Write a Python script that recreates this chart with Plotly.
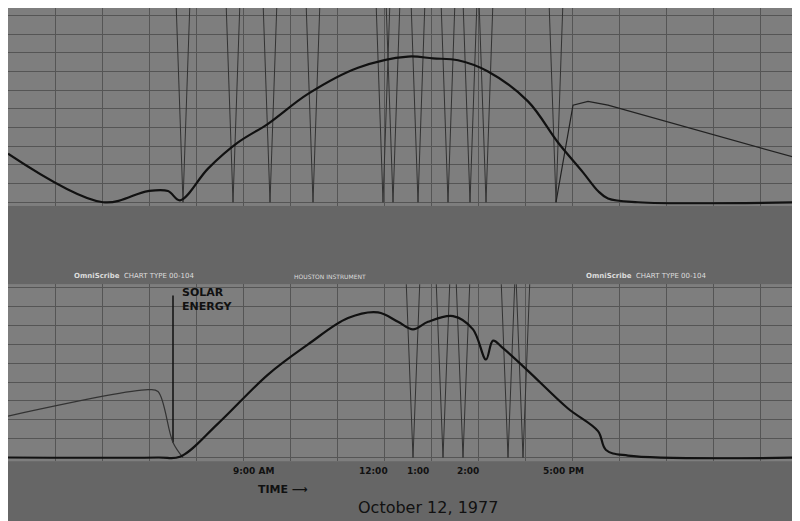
import plotly.graph_objects as go
from plotly.subplots import make_subplots

# top strip (chart units ~ pen position 0-800, values on 0-5 scale)
top_x = [0, 95, 140, 160, 172, 200, 230, 260, 300, 350, 400, 425, 450, 480, 520, 550, 575, 590, 600, 630, 800]
top_y = [1.3, 0.0, 0.3, 0.3, 0.05, 0.9, 1.6, 2.1, 2.9, 3.6, 3.9, 3.85, 3.8, 3.5, 2.7, 1.6, 0.8, 0.3, 0.1, 0.0, 0.0]
top_decay_x = [548, 565, 580, 600, 800]
top_decay_y = [0.0, 2.6, 2.7, 2.6, 1.1]
top_spikes = [175, 225, 262, 305, 375, 385, 410, 440, 462, 478, 548]

bot_x = [0, 150, 172, 210, 260, 300, 340, 370, 390, 405, 420, 445, 465, 478, 485, 495, 520, 560, 590, 598, 620, 800]
bot_y = [0.0, 0.0, 0.02, 0.9, 2.2, 3.0, 3.7, 3.85, 3.6, 3.4, 3.6, 3.75, 3.4, 2.6, 3.1, 2.9, 2.3, 1.3, 0.7, 0.2, 0.05, 0.0]
bot_early_x = [0, 140, 150, 165, 175]
bot_early_y = [1.1, 1.8, 1.75, 0.4, 0.0]
bot_spikes = [405, 435, 455, 500, 515]

time_labels = ["9:00 AM", "12:00", "1:00", "2:00", "5:00 PM"]
time_pos = [245, 365, 410, 460, 555]

fig = make_subplots(rows=2, cols=1, vertical_spacing=0.2)

def spikes(xs, top):
    sx, sy = [], []
    for x in xs:
        sx += [x - 7, x, x + 7, None]
        sy += [top, 0, top, None]
    return sx, sy

sx, sy = spikes(top_spikes, 5.4)
fig.add_trace(go.Scatter(x=sx, y=sy, mode="lines", line=dict(color="#333", width=1)), 1, 1)
fig.add_trace(go.Scatter(x=top_decay_x, y=top_decay_y, mode="lines", line=dict(color="#222", width=1.2)), 1, 1)
fig.add_trace(go.Scatter(x=top_x, y=top_y, mode="lines", line=dict(color="#111", width=2.2, shape="spline")), 1, 1)

sx, sy = spikes(bot_spikes, 4.8)
fig.add_trace(go.Scatter(x=sx, y=sy, mode="lines", line=dict(color="#333", width=1)), 2, 1)
fig.add_trace(go.Scatter(x=[165, 165], y=[0.4, 4.3], mode="lines", line=dict(color="#111", width=1.5)), 2, 1)
fig.add_trace(go.Scatter(x=bot_early_x, y=bot_early_y, mode="lines", line=dict(color="#333", width=1.2, shape="spline")), 2, 1)
fig.add_trace(go.Scatter(x=bot_x, y=bot_y, mode="lines", line=dict(color="#111", width=2.2, shape="spline")), 2, 1)

axis_x = dict(range=[0, 800], dtick=47, tick0=0, showgrid=True, gridcolor="#555",
              showticklabels=False, zeroline=False, ticks="")
fig.update_xaxes(**axis_x)
fig.update_yaxes(showgrid=True, gridcolor="#555", zeroline=False, showticklabels=False, dtick=0.5)
fig.update_yaxes(range=[-0.1, 5.2], row=1, col=1)
fig.update_yaxes(range=[-0.1, 4.6], row=2, col=1)

fig.update_layout(
    width=800, height=521, showlegend=False,
    margin=dict(l=0, r=0, t=0, b=0),
    paper_bgcolor="#666666", plot_bgcolor="#7e7e7e",
    xaxis=dict(domain=[0, 1]), yaxis=dict(domain=[0.62, 1.0]),
    xaxis2=dict(domain=[0, 1]), yaxis2=dict(domain=[0.13, 0.47]),
    font=dict(family="DejaVu Sans", color="#111"),
)

fig.add_annotation(x=0.08, y=0.485, xref="paper", yref="paper", text="<b>OmniScribe</b>  CHART TYPE 00-104",
                   showarrow=False, font=dict(size=7, color="#ddd"), xanchor="left")
fig.add_annotation(x=0.45, y=0.485, xref="paper", yref="paper", text="HOUSTON INSTRUMENT",
                   showarrow=False, font=dict(size=6, color="#ddd"), xanchor="right")
fig.add_annotation(x=0.72, y=0.485, xref="paper", yref="paper", text="<b>OmniScribe</b>  CHART TYPE 00-104",
                   showarrow=False, font=dict(size=7, color="#ddd"), xanchor="left")
fig.add_annotation(x=172, y=4.2, xref="x2", yref="y2", text="<b>SOLAR<br>ENERGY</b>", align="left",
                   showarrow=False, font=dict(size=11, color="#111"), xanchor="left")
for t, p in zip(time_labels, time_pos):
    fig.add_annotation(x=p, y=0.125, xref="x2", yref="paper", text="<b>" + t + "</b>", showarrow=False,
                       font=dict(size=9, color="#111"), yanchor="top")
fig.add_annotation(x=275, y=0.06, xref="x2", yref="paper", text="<b>TIME ⟶</b>", showarrow=False,
                   font=dict(size=11, color="#111"), yanchor="bottom")
fig.add_annotation(x=420, y=0.02, xref="x2", yref="paper", text="October 12, 1977", showarrow=False,
                   font=dict(size=16, color="#111", family="DejaVu Sans"), yanchor="bottom")

fig.write_html("out.html")
